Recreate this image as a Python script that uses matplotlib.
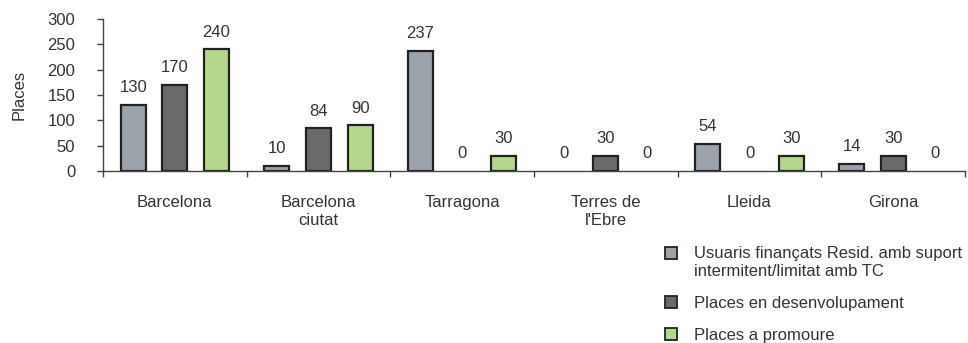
import matplotlib
matplotlib.use("Agg")
import matplotlib.pyplot as plt
import numpy as np
from matplotlib.ticker import FixedLocator
from matplotlib.patches import Rectangle
from matplotlib.legend_handler import HandlerBase

categories = ["Barcelona", "Barcelona\nciutat", "Tarragona", "Terres de\nl'Ebre", "Lleida", "Girona"]
series_names = ["Usuaris finançats Resid. amb suport\nintermitent/limitat amb TC",
                "Places en desenvolupament",
                "Places a promoure"]
usuaris = [130, 10, 237, 0, 54, 14]
desenvolupament = [170, 84, 0, 30, 0, 30]
promoure = [240, 90, 30, 0, 30, 0]
colors = ["#9ca3aa", "#6a6a6a", "#b5d78c"]
yticks = [0, 50, 100, 150, 200, 250, 300]

plt.rcParams['font.family'] = ['Liberation Sans', 'DejaVu Sans']
txt = "#333333"
edge = "#222222"


class SquareHandler(HandlerBase):
    def __init__(self, color, dy=0.0):
        super().__init__()
        self.color = color
        self.dy = dy

    def create_artists(self, legend, orig_handle, xdescent, ydescent, width, height, fontsize, trans):
        p = Rectangle((-xdescent, -ydescent + self.dy), width, height,
                      facecolor=self.color, edgecolor=edge, linewidth=1.3, transform=trans)
        return [p]


fig = plt.figure(figsize=(9.68, 3.43), dpi=100)
ax = fig.add_axes([103/968, 1-171/343, 862/968, 152/343])

x = np.arange(len(categories)) + 0.5
width = 0.174
offsets = [-0.29, 0.0, 0.29]
handles = []
for vals, off, col, name in zip([usuaris, desenvolupament, promoure], offsets, colors, series_names):
    bars = ax.bar(x + off, vals, width, color=col, edgecolor=edge, linewidth=1.6, label=name)
    for b, v in zip(bars, vals):
        if v == 0:
            b.set_linewidth(0)
        ax.annotate(str(v), (b.get_x() + b.get_width()/2, v), xytext=(0, 7),
                    textcoords="offset points", ha="center", va="bottom",
                    fontsize=12, color=txt)
    handles.append(bars)

ax.set_xlim(0, len(categories))
ax.set_ylim(0, 300)
ax.set_yticks(yticks)
ax.set_xticks(x)
ax.set_xticklabels(categories, fontsize=12, color=txt, linespacing=1.25)
ax.xaxis.set_minor_locator(FixedLocator(np.arange(len(categories) + 1)))
ax.tick_params(axis='x', which='major', length=0, pad=17)
ax.tick_params(axis='x', which='minor', length=4, width=1, color="#444444")
ax.tick_params(axis='y', length=4, width=1, color="#444444", labelsize=12, labelcolor=txt, pad=16)
for s in ["top", "right"]:
    ax.spines[s].set_visible(False)
for s in ["left", "bottom"]:
    ax.spines[s].set_color("#444444")
    ax.spines[s].set_linewidth(1)
ax.set_ylabel("Places", fontsize=12, color=txt, labelpad=15)

handler_map = {handles[0]: SquareHandler(colors[0], dy=6.8),
               handles[1]: SquareHandler(colors[1]),
               handles[2]: SquareHandler(colors[2])}
leg = fig.legend(handles=handles, labels=series_names, loc="upper left",
                 bbox_to_anchor=(665/968, 1-246/343), frameon=False,
                 fontsize=12, handlelength=0.72, handleheight=0.72,
                 handletextpad=1.05, labelspacing=1.0, borderpad=0, borderaxespad=0,
                 handler_map=handler_map)
for t in leg.get_texts():
    t.set_color(txt)
    t.set_linespacing(1.28)

fig.savefig("out.png", dpi=100)
